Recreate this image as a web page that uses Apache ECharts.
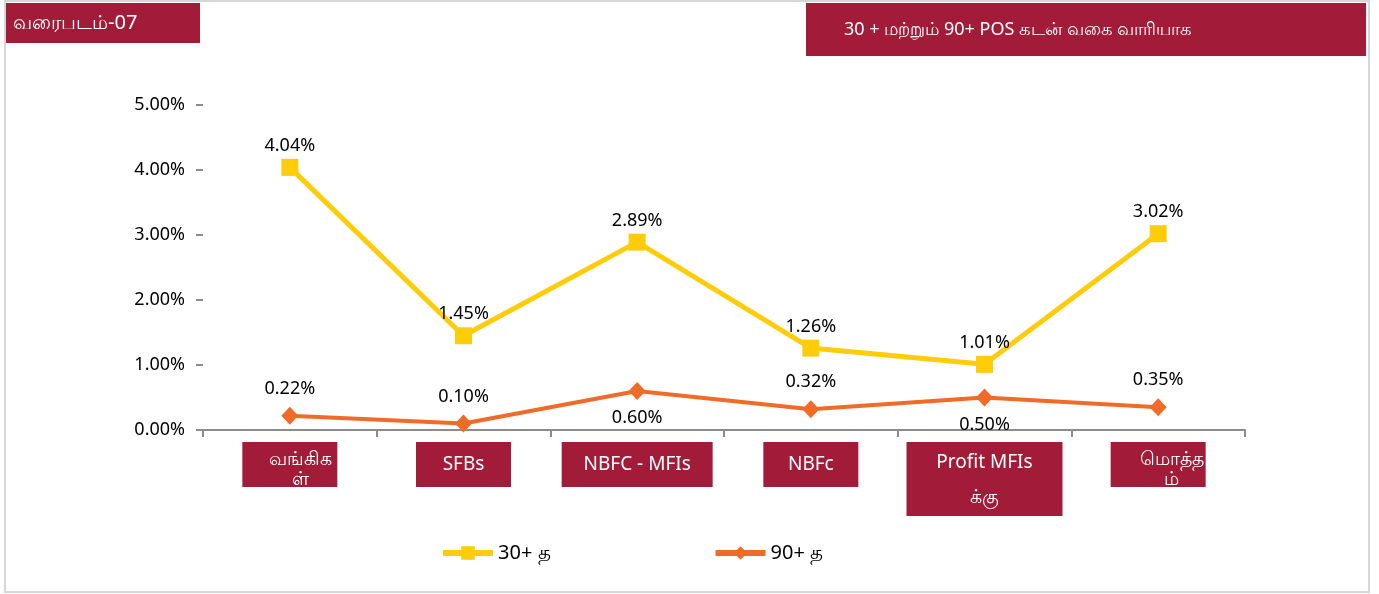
<!DOCTYPE html>
<html>
<head>
<meta charset="utf-8">
<script src="https://cdn.jsdelivr.net/npm/echarts@6/dist/echarts.min.js"></script>
<style>
  html, body { margin: 0; padding: 0; background: #fff; }
  #chart { width: 1379px; height: 594px; }
</style>
</head>
<body>
<div id="chart"></div>
<script>
// data
var categories = ['வங்கிக\nள்', 'SFBs', 'NBFC - MFIs', 'NBFc', 'Profit MFIs\nக்கு', 'மொத்த\nம்'];
var series30 = [4.04, 1.45, 2.89, 1.26, 1.01, 3.02];
var series90 = [0.22, 0.10, 0.60, 0.32, 0.50, 0.35];
var yTicks = [0, 1, 2, 3, 4, 5];
var seriesNames = ['30+ த', '90+ த'];
var chartTitle = 'வரைபடம்-07';
var chartSubtitle = '30 + மற்றும் 90+ POS கடன் வகை வாரியாக';

var RED = '#A21C39';
var YELLOW = '#FFCC0A';
var ORANGE = '#F06A28';
var FONT = '"Noto Sans", "Open Sans", sans-serif';

// box style for each category label (crimson boxes under the axis)
var boxStyles = [
  { width: 73, height: 37, padding: [8, 0, 0, 22], lineHeight: 20 },
  { width: 95, height: 45, padding: 0, lineHeight: 45 },
  { width: 151, height: 45, padding: 0, lineHeight: 45 },
  { width: 95, height: 45, padding: 0, lineHeight: 45 },
  { width: 156, height: 71, padding: [3, 0, 0, 0], lineHeight: 35 },
  { width: 68, height: 37, padding: [8, 0, 0, 27], lineHeight: 20 }
];
var pos90 = ['top', 'top', 'bottom', 'top', 'bottom', 'top'];

var chart = echarts.init(document.getElementById('chart'), null, { renderer: 'canvas' });

var option = {
  backgroundColor: '#fff',
  animation: false,
  textStyle: { fontFamily: FONT },
  graphic: [
    { type: 'rect', shape: { x: 5, y: 1, width: 1364, height: 591 },
      style: { fill: 'none', stroke: '#d6d6d6', lineWidth: 2 }, silent: true },
    { type: 'rect', shape: { x: 6, y: 3, width: 194, height: 40 }, style: { fill: RED } },
    { type: 'text', x: 13, y: 23,
      style: { text: chartTitle, fill: '#fff', font: '20px ' + FONT, textVerticalAlign: 'middle' } },
    { type: 'rect', shape: { x: 806, y: 3, width: 560, height: 53 }, style: { fill: RED } },
    { type: 'text', x: 844, y: 30,
      style: { text: chartSubtitle, fill: '#fff', font: '18px ' + FONT, textVerticalAlign: 'middle' } }
  ],
  grid: { left: 203, right: 134, top: 105, bottom: 164 },
  legend: {
    data: seriesNames,
    left: 435,
    top: 538,
    itemWidth: 50,
    itemHeight: 17,
    itemGap: 162,
    lineStyle: { width: 6 },
    textStyle: { fontSize: 20, color: '#000', fontFamily: FONT }
  },
  xAxis: {
    type: 'category',
    data: categories.map(function (c, i) {
      var b = boxStyles[i];
      return {
        value: c,
        textStyle: {
          width: b.width, height: b.height, padding: b.padding, lineHeight: b.lineHeight,
          backgroundColor: RED, color: '#fff', fontSize: 19
        }
      };
    }),
    boundaryGap: true,
    axisLine: { show: true, lineStyle: { color: '#8c8c8c', width: 2 } },
    axisTick: { show: true, length: 7, lineStyle: { color: '#8c8c8c', width: 2 } },
    axisLabel: { interval: 0, margin: 12, color: '#fff', fontSize: 19, fontFamily: FONT }
  },
  yAxis: {
    type: 'value',
    min: yTicks[0],
    max: yTicks[yTicks.length - 1],
    interval: 1,
    axisLine: { show: false },
    axisTick: { show: true, length: 7, lineStyle: { color: '#8c8c8c', width: 2 } },
    splitLine: { show: false },
    axisLabel: {
      margin: 18, fontSize: 18, color: '#000', fontFamily: FONT,
      formatter: function (v) { return v.toFixed(2) + '%'; }
    }
  },
  series: [
    {
      name: seriesNames[0],
      type: 'line',
      data: series30,
      symbol: 'rect',
      symbolSize: 17,
      lineStyle: { color: YELLOW, width: 5 },
      itemStyle: { color: YELLOW },
      label: {
        show: true, position: 'top', distance: 4, fontSize: 18, color: '#000',
        formatter: function (p) { return p.value.toFixed(2) + '%'; }
      },
      z: 3
    },
    {
      name: seriesNames[1],
      type: 'line',
      data: series90.map(function (v, i) {
        return { value: v, label: { position: pos90[i] } };
      }),
      symbol: 'diamond',
      symbolSize: [17, 18],
      lineStyle: { color: ORANGE, width: 4 },
      itemStyle: { color: ORANGE },
      label: {
        show: true, distance: 9, fontSize: 18, color: '#000',
        formatter: function (p) { return p.value.toFixed(2) + '%'; }
      },
      z: 2
    }
  ]
};

chart.setOption(option);
</script>
</body>
</html>
